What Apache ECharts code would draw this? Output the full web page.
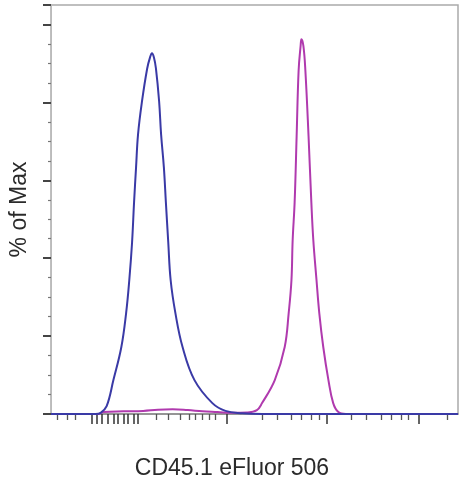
<!DOCTYPE html>
<html>
<head>
<meta charset="utf-8">
<script src="https://cdn.jsdelivr.net/npm/echarts@6/dist/echarts.min.js"></script>
<style>
  html, body { margin: 0; padding: 0; background: #fff; }
  #chart { width: 464px; height: 480px; }
</style>
</head>
<body>
<div id="chart"></div>
<script>
// x in display channels (0..1024), y in % of max
var blueX = [0, 112, 125, 140, 157, 177, 189, 197, 204, 209, 214, 219, 229, 242, 249, 254, 259, 264, 272, 277, 284, 289, 295, 301, 313, 331, 361, 406, 439, 481, 531, 1024];
var blueY = [0, 0, 0.3, 2, 8.7, 17.2, 25.9, 34.4, 44.1, 54.4, 63.3, 71.8, 80.3, 88.7, 91.5, 92.6, 91.5, 88.7, 80.3, 71.8, 63.3, 54.4, 44.1, 34.4, 25.9, 17.2, 8.7, 2.8, 0.8, 0.2, 0, 0];

var pinkX = [0, 120, 132, 182, 232, 269, 306, 344, 381, 419, 456, 493, 518, 531, 563, 588, 598, 605, 608, 613, 618, 623, 628, 630, 635, 640, 648, 655, 660, 668, 675, 685, 698, 710, 723, 742, 1024];
var pinkY = [0, 0, 0.5, 0.7, 0.8, 1.1, 1.2, 1.0, 0.7, 0.5, 0.3, 0.4, 1.0, 2.8, 8.7, 17.2, 25.9, 34.4, 44.6, 54.4, 71.3, 88.2, 94.5, 96.2, 94.5, 88.2, 71.3, 54.4, 44.6, 34.4, 25.9, 17.2, 8.7, 2.8, 0.5, 0, 0];

// tick positions on the biexponential display (channels)
var majorTicks = [102, 115, 127, 142, 157, 169, 182, 194, 207, 219, 443, 693, 924];
var minorTicks = [15, 40, 62, 264, 294, 324, 349, 364, 381, 399, 414, 531, 568, 605, 630, 655, 675, 755, 792, 830, 855, 880, 899, 997];

function pairs(xs, ys) {
  return xs.map(function (x, i) { return [x, ys[i]]; });
}

var chart = echarts.init(document.getElementById('chart'));
chart.setOption({
  backgroundColor: '#fff',
  animation: false,
  title: {
    text: 'CD45.1 eFluor 506', left: 'center', top: 452,
    textStyle: { fontFamily: 'Liberation Sans', fontSize: 23, fontWeight: 'normal', color: '#2b2b2b' }
  },
  grid: {
    left: 44, right: 6, top: 5, bottom: 66,
    show: true, borderColor: '#aaa', borderWidth: 1.5
  },
  xAxis: [{
    type: 'value', min: 0, max: 1024,
    axisLine: { show: true, lineStyle: { color: '#888', width: 1.5 } },
    axisTick: { show: true, length: 10, customValues: majorTicks, lineStyle: { color: '#333', width: 1.5 } },
    axisLabel: { show: false },
    splitLine: { show: false }
  }, {
    type: 'value', min: 0, max: 1024, position: 'bottom',
    axisLine: { show: false },
    axisTick: { show: true, length: 6, customValues: minorTicks, lineStyle: { color: '#555', width: 1.3 } },
    axisLabel: { show: false },
    splitLine: { show: false }
  }],
  yAxis: {
    type: 'value', min: 0, max: 105, interval: 20,
    name: '% of Max', nameLocation: 'middle', nameGap: 20,
    nameTextStyle: { fontFamily: 'Liberation Sans', fontSize: 23, color: '#2b2b2b' },
    axisLine: { show: true, lineStyle: { color: '#bbb', width: 1 } },
    axisTick: { show: true, length: 8, lineStyle: { color: '#444', width: 2 } },
    minorTick: { show: true, splitNumber: 4, length: 3, lineStyle: { color: '#777', width: 1.2 } },
    axisLabel: { show: false },
    splitLine: { show: false }
  },
  series: [{
    type: 'line', xAxisIndex: 0,
    data: pairs(pinkX, pinkY),
    showSymbol: false, smooth: 0.4,
    lineStyle: { color: '#b03aae', width: 2 }
  }, {
    type: 'line', xAxisIndex: 0,
    data: pairs(blueX, blueY),
    showSymbol: false, smooth: 0.4,
    lineStyle: { color: '#3a3aa6', width: 2 }
  }]
});
</script>
</body>
</html>
